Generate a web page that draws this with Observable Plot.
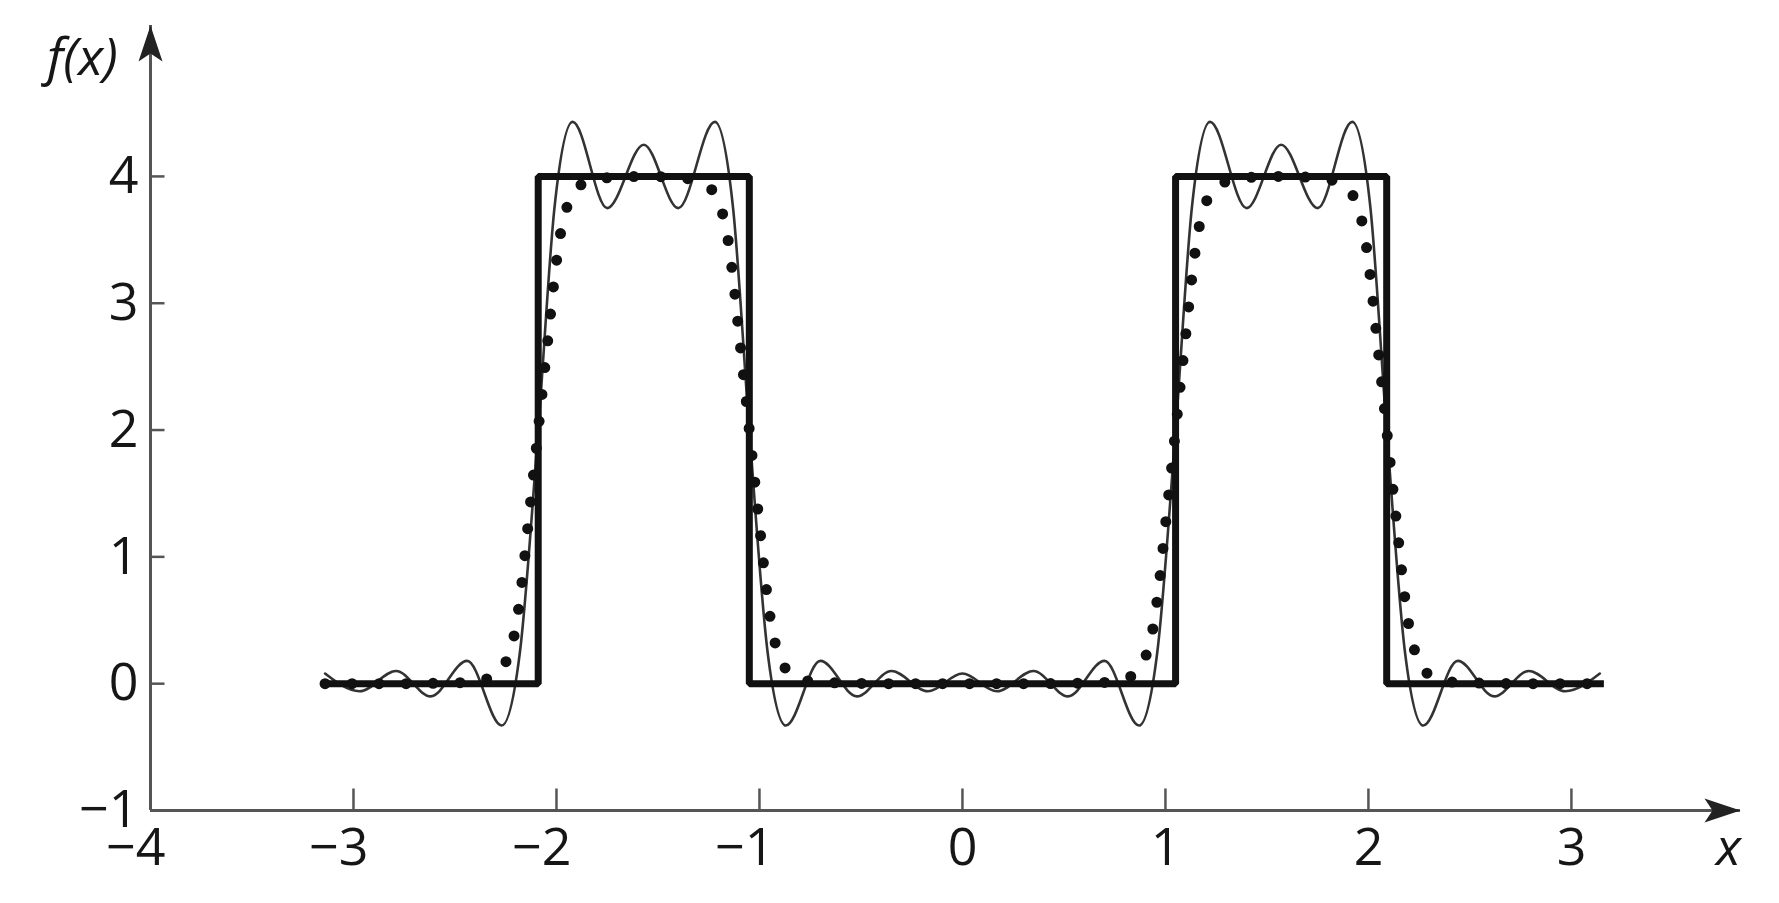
<!DOCTYPE html>
<html>
<head>
<meta charset="utf-8">
<script src="https://cdn.jsdelivr.net/npm/d3@7"></script>
<script src="https://cdn.jsdelivr.net/npm/@observablehq/plot@0.6"></script>
<style>
  html, body { margin: 0; padding: 0; background: #fff; overflow: hidden; }
  #chart svg { display: block; }
</style>
</head>
<body>
<div id="chart"></div>
<script>
// ---- data ----
const xTickValues = [-4, -3, -2, -1, 0, 1, 2, 3];
const xTickMarks  = [-3, -2, -1, 0, 1, 2, 3];
const yTickValues = [-1, 0, 1, 2, 3, 4];
const yTickMarks  = [0, 1, 2, 3, 4];
const xDomain = [-4, 3.833];
const yDomain = [-1, 5.19];
const yLabel = "f(x)";
const xLabel = "x";

// square wave (thick line)
const sqX = [-3.16, -2.09, -2.09, -1.05, -1.05, 1.05, 1.05, 2.09, 2.09, 3.16];
const sqY = [0, 0, 4, 4, 0, 0, 4, 4, 0, 0];

// oscillating partial sum (thin line)
const thinX = [-3.14, -2.97, -2.79, -2.62, -2.44, -2.27, -2.18, -2.09, -2.01, -1.92,
               -1.75, -1.57, -1.40, -1.22, -1.13, -1.05, -0.96, -0.87, -0.70, -0.52,
               -0.35, -0.17, 0.00, 0.17, 0.35, 0.52, 0.70, 0.87, 0.96, 1.05,
               1.13, 1.22, 1.40, 1.57, 1.75, 1.92, 2.01, 2.09, 2.18, 2.27,
               2.44, 2.62, 2.79, 2.97, 3.14];
const thinY = [0.08, -0.06, 0.10, -0.10, 0.18, -0.33, 0.25, 2.00, 3.75, 4.43,
               3.75, 4.25, 3.75, 4.43, 3.75, 2.00, 0.25, -0.33, 0.18, -0.10,
               0.10, -0.06, 0.08, -0.06, 0.10, -0.10, 0.18, -0.33, 0.25, 2.00,
               3.75, 4.43, 3.75, 4.25, 3.75, 4.43, 3.75, 2.00, 0.25, -0.33,
               0.18, -0.10, 0.10, -0.06, 0.08];

// smooth approximation (dotted line)
const dotX = [-3.14, -2.79, -2.44, -2.34, -2.29, -2.26, -2.23, -2.20, -2.17, -2.14,
              -2.115, -2.09, -2.065, -2.04, -2.01, -1.98, -1.95, -1.92, -1.89, -1.84,
              -1.74, -1.57, -1.40, -1.30, -1.25, -1.22, -1.19, -1.16, -1.13, -1.10,
              -1.075, -1.05, -1.025, -1.00, -0.97, -0.94, -0.91, -0.88, -0.85, -0.80,
              -0.70, -0.35, 0.00, 0.35, 0.70, 0.80, 0.85, 0.88, 0.91, 0.94,
              0.97, 1.00, 1.025, 1.05, 1.075, 1.10, 1.13, 1.16, 1.19, 1.22,
              1.25, 1.30, 1.40, 1.57, 1.74, 1.84, 1.89, 1.92, 1.95, 1.98,
              2.01, 2.04, 2.065, 2.09, 2.115, 2.14, 2.17, 2.20, 2.23, 2.26,
              2.29, 2.34, 2.44, 2.79, 3.14];
const dotY = [0.00, 0.00, 0.01, 0.04, 0.08, 0.14, 0.25, 0.45, 0.80, 1.25,
              1.62, 2.00, 2.38, 2.75, 3.20, 3.55, 3.75, 3.86, 3.92, 3.96,
              3.99, 4.00, 3.99, 3.96, 3.92, 3.86, 3.75, 3.55, 3.20, 2.75,
              2.38, 2.00, 1.62, 1.25, 0.80, 0.45, 0.25, 0.14, 0.08, 0.04,
              0.01, 0.00, 0.00, 0.00, 0.01, 0.04, 0.08, 0.14, 0.25, 0.45,
              0.80, 1.25, 1.62, 2.00, 2.38, 2.75, 3.20, 3.55, 3.75, 3.86,
              3.92, 3.96, 3.99, 4.00, 3.99, 3.96, 3.92, 3.86, 3.75, 3.55,
              3.20, 2.75, 2.38, 2.00, 1.62, 1.25, 0.80, 0.45, 0.25, 0.14,
              0.08, 0.04, 0.01, 0.00, 0.00];

// ---- build tables ----
const sq = sqX.map((x, i) => ({x, y: sqY[i]}));
const thin = thinX.map((x, i) => ({x, y: thinY[i]}));
const dotted = dotX.map((x, i) => ({x, y: dotY[i]}));

const fmt = d => d < 0 ? "\u2212" + Math.abs(d) : String(d);

// custom symbols
const arrowUp = {draw(c) { c.moveTo(0, 0); c.lineTo(12, 36); c.lineTo(0, 28); c.lineTo(-12, 36); c.closePath(); }};
const arrowRight = {draw(c) { c.moveTo(0, 0); c.lineTo(-36, -12); c.lineTo(-28, 0); c.lineTo(-36, 12); c.closePath(); }};
const tickRight = {draw(c) { c.moveTo(0, 0); c.lineTo(14, 0); }};
const tickUp = {draw(c) { c.moveTo(0, 0); c.lineTo(0, -22); }};

const axisColor = "#555";
const textColor = "#161616";

const chart = Plot.plot({
  width: 1779,
  height: 903,
  marginLeft: 150,
  marginRight: 39,
  marginTop: 25,
  marginBottom: 93,
  x: {domain: xDomain, axis: null},
  y: {domain: yDomain, axis: null},
  style: {fontFamily: "'Open Sans', sans-serif", fontSize: "52px", color: textColor, background: "#fff", overflow: "visible"},
  marks: [
    // axes lines
    Plot.ruleX([xDomain[0]], {stroke: axisColor, strokeWidth: 3}),
    Plot.ruleY([yDomain[0]], {stroke: axisColor, strokeWidth: 3}),
    // tick marks
    Plot.dot(yTickMarks, {y: d => d, frameAnchor: "left", symbol: tickRight, fill: "none", stroke: axisColor, strokeWidth: 2.5}),
    Plot.dot(xTickMarks, {x: d => d, frameAnchor: "bottom", symbol: tickUp, fill: "none", stroke: axisColor, strokeWidth: 2.5}),
    // arrowheads
    Plot.dot([yLabel], {frameAnchor: "top-left", symbol: arrowUp, fill: "#222", stroke: "none"}),
    Plot.dot([xLabel], {frameAnchor: "bottom-right", symbol: arrowRight, fill: "#222", stroke: "none"}),
    // tick labels
    Plot.text(xTickValues, {x: d => d, frameAnchor: "bottom", lineAnchor: "middle", text: fmt, textAnchor: "end", dx: 15, dy: 38, fontSize: 52, fill: textColor}),
    Plot.text(yTickValues, {y: d => d, frameAnchor: "left", lineAnchor: "middle", text: fmt, textAnchor: "end", dx: -12, fontSize: 52, fill: textColor}),
    // axis labels
    Plot.text([yLabel], {frameAnchor: "top-left", lineAnchor: "middle", text: d => d, textAnchor: "middle", dx: -68, dy: 33, fontSize: 52, fontStyle: "italic", fill: textColor}),
    Plot.text([xLabel], {frameAnchor: "bottom-right", lineAnchor: "middle", text: d => d, textAnchor: "middle", dx: -12, dy: 38, fontSize: 52, fontStyle: "italic", fill: textColor}),
    // curves
    Plot.line(thin, {x: "x", y: "y", curve: "monotone-x", stroke: "#333", strokeWidth: 2.6}),
    Plot.line(sq, {x: "x", y: "y", stroke: "#111", strokeWidth: 7, strokeLinejoin: "miter", strokeLinecap: "butt"}),
    Plot.line(dotted, {x: "x", y: "y", curve: "monotone-x", stroke: "#111", strokeWidth: 11, strokeLinecap: "round", strokeDasharray: "0 27"})
  ]
});
document.getElementById("chart").appendChild(chart);
</script>
</body>
</html>
